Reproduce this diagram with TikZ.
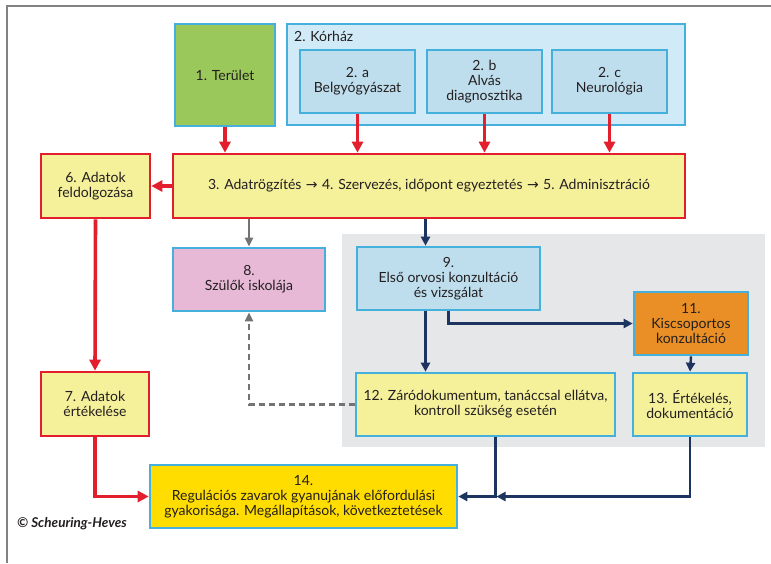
\documentclass[tikz,border=0pt]{standalone}
\usepackage{fontspec}
\setmainfont{Lato}
\newfontfamily\symfont{DejaVu Sans}
\usepackage{xcolor}
\usepackage{tikz}
\usetikzlibrary{positioning, arrows.meta, calc}
\definecolor{boxyellow}{RGB}{245,240,154}
\definecolor{boxred}{RGB}{227,30,45}
\definecolor{boxblue}{RGB}{70,176,220}
\definecolor{hospfill}{RGB}{208,234,248}
\definecolor{deptfill}{RGB}{190,222,238}
\definecolor{terfill}{RGB}{155,200,90}
\definecolor{pinkfill}{RGB}{231,185,214}
\definecolor{orangefill}{RGB}{233,143,37}
\definecolor{goldfill}{RGB}{255,221,0}
\definecolor{panelgray}{RGB}{230,231,233}
\definecolor{navy}{RGB}{30,52,96}
\definecolor{arrowgray}{RGB}{115,115,115}
\definecolor{framegray}{RGB}{130,130,130}
\definecolor{textdark}{RGB}{35,31,32}
\newcommand{\tarrow}{{\symfont\ →\ }}

\begin{document}
\begin{tikzpicture}[
        x=1pt, y=-1pt,
        every node/.style={font=\fontsize{14}{14.8}\selectfont, text=textdark, align=center, inner sep=0pt},
        box/.style={draw=boxblue, rectangle, line width=2.6pt, fill=boxyellow},
        redbox/.style={box, draw=boxred},
        dept/.style={box, fill=deptfill, minimum width=115, minimum height=63},
        arr/.style={-{Triangle[length=11pt,width=11pt]}, line width=3.6pt, boxred},
        navyarr/.style={-{Triangle[length=9pt,width=9pt]}, line width=2.4pt, navy},
        grayarr/.style={-{Triangle[length=9pt,width=8pt]}, line width=2.2pt, arrowgray}
    ]
    \useasboundingbox (0,0) rectangle (771,563);
    \draw[framegray, line width=1.8pt] (7,563) -- (7,6) -- (771,6);

    % grey background of the consultation part
    \fill[panelgray] (342,234) rectangle (765,447);

    \node[box, fill=terfill, minimum width=100, minimum height=102] (ter) at (225,75) {1. Terület};
    \node[box, fill=hospfill, minimum width=398, minimum height=101] (korhaz) at (486,74.5) {};
    \node[anchor=north west] (korhazlabel) at (294,31) {2. Kórház};
    \node[dept] (bel) at (357.5,81.5) {2. a\\Belgyógyászat};
    \node[dept] (alv) at (484.5,81.5) {2. b\\Alvás\\diagnosztika};
    \node[dept] (neu) at (609.5,81.5) {2. c\\Neurológia};

    \node[redbox, minimum width=512, minimum height=64] (adat) at (429,186)
        {3. Adatrögzítés\tarrow 4. Szervezés, időpont egyeztetés\tarrow 5. Adminisztráció};
    \node[redbox, minimum width=109, minimum height=64] (feld) at (95.5,186) {6. Adatok\\feldolgozása};
    \node[redbox, minimum width=108, minimum height=64] (ertek) at (95,404) {7. Adatok\\értékelése};

    \node[box, fill=pinkfill, minimum width=152, minimum height=63] (szulo) at (249,279.5) {8.\\Szülők iskolája};
    \node[box, fill=deptfill, minimum width=183, minimum height=63] (elso) at (448.5,278.5) {9.\\Első orvosi konzultáció\\és vizsgálat};
    \node[box, fill=orangefill, minimum width=114, minimum height=63] (kis) at (691,323.5) {11.\\Kiscsoportos\\konzultáció};
    \node[box, minimum width=259, minimum height=63] (zaro) at (485.5,404.5) {12. Záródokumentum, tanáccsal ellátva,\\kontroll szükség esetén};
    \node[box, minimum width=114, minimum height=63] (doku) at (690,404.5) {13. Értékelés,\\dokumentáció};
    \node[box, fill=goldfill, minimum width=307, minimum height=63] (reg) at (303.5,496.5)
        {14.\\Regulációs zavarok gyanujának előfordulási\\gyakorisága. Megállapítások, következtetések};

    \node[anchor=west, font=\fontsize{13.5}{15}\selectfont\bfseries\itshape] (copy) at (17,524) {© Scheuring-Heves};

    % red data flow
    \draw[arr] (ter.south) -- (ter |- adat.north);
    \draw[arr] (bel.south) -- (bel |- adat.north);
    \draw[arr] (alv.south) -- (alv |- adat.north);
    \draw[arr] (neu.south) -- (neu |- adat.north);
    \draw[arr] (adat.west) -- (feld.east);
    \draw[arr] (feld.south) -- (ertek.north);
    \draw[arr] (ertek.south) |- (reg.west);

    % consultation flow
    \draw[grayarr] (szulo |- adat.south) -- (szulo.north);
    \draw[navyarr] ([xshift=-23pt]elso.north |- adat.south) -- ([xshift=-23pt]elso.north);
    \draw[navyarr] ([xshift=-23pt]elso.south) -- ([xshift=-23pt]elso.south |- zaro.north);
    \draw[navyarr] (elso.south) |- (kis.west);
    \draw[navyarr] (kis.south) -- (doku.north);
    \draw[grayarr, dash pattern=on 6pt off 4pt] (zaro.west) -| (szulo.south);

    \coordinate (join) at ([xshift=10pt]zaro.south |- reg.east);
    \draw[navyarr] ([xshift=10pt]zaro.south) |- (reg.east);
    \draw[navyarr] (doku.south) |- ([xshift=1pt]join);

\end{tikzpicture}
\end{document}
